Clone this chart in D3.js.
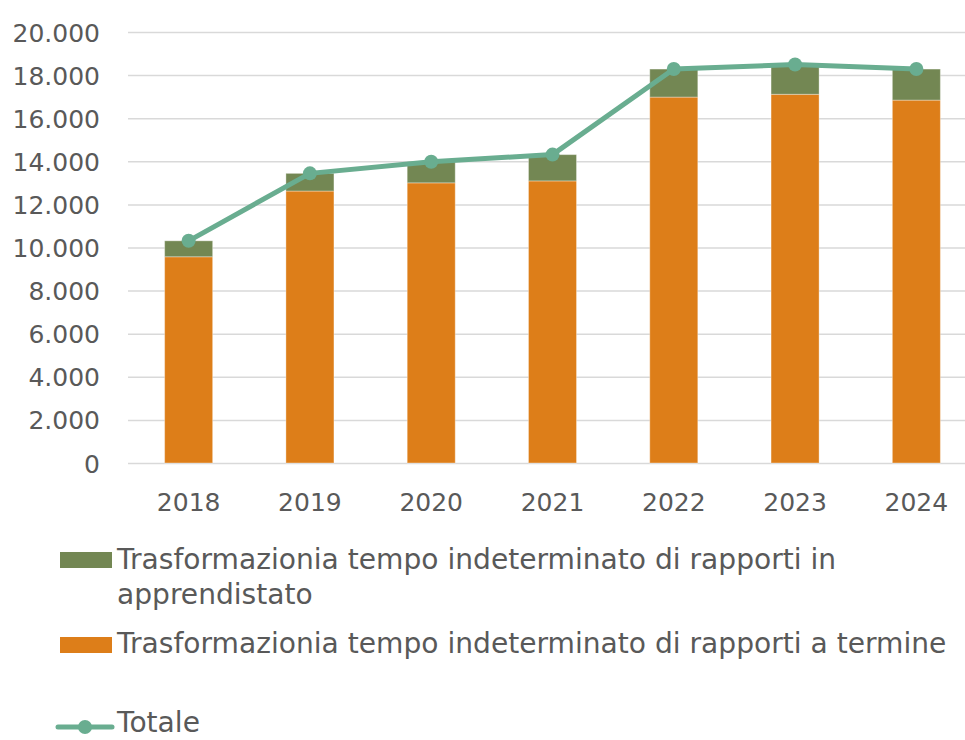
<!DOCTYPE html>
<html>
<head>
<meta charset="utf-8">
<script src="https://cdn.jsdelivr.net/npm/d3@7"></script>
<style>
  html, body { margin: 0; padding: 0; background: #fff; }
  svg { display: block; }
  text { font-family: "DejaVu Sans", sans-serif; fill: #595959; }
</style>
</head>
<body>
<svg id="chart" width="965" height="740"></svg>
<script>
const years = ["2018", "2019", "2020", "2021", "2022", "2023", "2024"];
const termine = [9570, 12620, 13000, 13090, 16980, 17110, 16840];
const apprendistato = [740, 820, 980, 1220, 1300, 1380, 1440];
const totale = [10310, 13440, 13980, 14310, 18280, 18490, 18280];
const yTicks = [0, 2000, 4000, 6000, 8000, 10000, 12000, 14000, 16000, 18000, 20000];
const legendLabels = [
  ["Trasformazionia tempo indeterminato di rapporti in", "apprendistato"],
  ["Trasformazionia tempo indeterminato di rapporti a termine"],
  ["Totale"]
];

const colors = { termine: "#DD7E19", appr: "#738753", line: "#69AD90", grid: "#D9D9D9" };

const svg = d3.select("#chart");
const plot = { left: 128, right: 977, top: 32, bottom: 463 };

const x = d3.scaleBand().domain(years).range([plot.left, plot.right])
  .paddingInner(0.604).paddingOuter(0.302);
const y = d3.scaleLinear().domain([0, 20000]).range([plot.bottom, plot.top]);

const it = d3.formatLocale({ decimal: ",", thousands: ".", grouping: [3], currency: ["€", ""] });
const fmt = it.format(",");

// gridlines
const grid = svg.append("g").attr("transform", `translate(${plot.left},0)`)
  .call(d3.axisRight(y).tickValues(yTicks).tickSize(plot.right - plot.left).tickFormat(""));
grid.select(".domain").remove();
grid.selectAll("line").attr("stroke", colors.grid).attr("stroke-width", 1.5);

// y labels
const yAx = svg.append("g").attr("transform", `translate(100,0)`)
  .call(d3.axisLeft(y).tickValues(yTicks).tickSize(0).tickPadding(0).tickFormat(fmt));
yAx.select(".domain").remove();
yAx.selectAll("text").attr("font-size", 25).attr("fill", "#595959")
  .style("font-family", '"DejaVu Sans", sans-serif').attr("dy", "0.36em");

// x labels
const xAx = svg.append("g").attr("transform", `translate(0,${plot.bottom})`)
  .call(d3.axisBottom(x).tickSize(0).tickPadding(0));
xAx.select(".domain").remove();
xAx.selectAll("text").attr("font-size", 25).attr("fill", "#595959")
  .style("font-family", '"DejaVu Sans", sans-serif').attr("dy", "1.92em");

// stacked bars
const rows = years.map((yr, i) => ({ year: yr, termine: termine[i], appr: apprendistato[i] }));
const stack = d3.stack().keys(["termine", "appr"])(rows);
const fills = [colors.termine, colors.appr];
stack.forEach((layer, li) => {
  svg.append("g").selectAll("rect").data(layer).join("rect")
    .attr("x", d => x(d.data.year))
    .attr("width", x.bandwidth())
    .attr("y", d => y(d[1]))
    .attr("height", d => y(d[0]) - y(d[1]))
    .attr("fill", fills[li])
    .attr("stroke", "rgba(255,255,255,0.35)")
    .attr("stroke-width", 1);
});

// total line
const pts = years.map((yr, i) => [x(yr) + x.bandwidth() / 2, y(totale[i])]);
svg.append("path").attr("d", d3.line()(pts)).attr("fill", "none")
  .attr("stroke", colors.line).attr("stroke-width", 5).attr("stroke-linejoin", "round");
svg.append("g").selectAll("circle").data(pts).join("circle")
  .attr("cx", d => d[0]).attr("cy", d => d[1]).attr("r", 7).attr("fill", colors.line);

// legend
const lg = svg.append("g");
const tmp = lg.append("text").attr("font-size", 100).text(legendLabels[1][0]);
const w100 = tmp.node().getComputedTextLength();
tmp.remove();
const lfs = Math.min(30, 100 * 830 / w100);

lg.append("rect").attr("x", 60).attr("y", 552).attr("width", 52).attr("height", 16).attr("fill", colors.appr);
const t1 = lg.append("text").attr("x", 117).attr("y", 569).attr("font-size", lfs);
legendLabels[0].forEach((s, i) => {
  t1.append("tspan").attr("x", 117).attr("y", 569 + i * 35).text(s);
});
lg.append("rect").attr("x", 60).attr("y", 637).attr("width", 52).attr("height", 16).attr("fill", colors.termine);
lg.append("text").attr("x", 117).attr("y", 653).attr("font-size", lfs).text(legendLabels[1][0]);

lg.append("line").attr("x1", 58).attr("x2", 112).attr("y1", 727).attr("y2", 727)
  .attr("stroke", colors.line).attr("stroke-width", 5).attr("stroke-linecap", "round");
lg.append("circle").attr("cx", 85).attr("cy", 727).attr("r", 7).attr("fill", colors.line);
lg.append("text").attr("x", 117).attr("y", 732).attr("font-size", lfs).text(legendLabels[2][0]);
</script>
</body>
</html>
